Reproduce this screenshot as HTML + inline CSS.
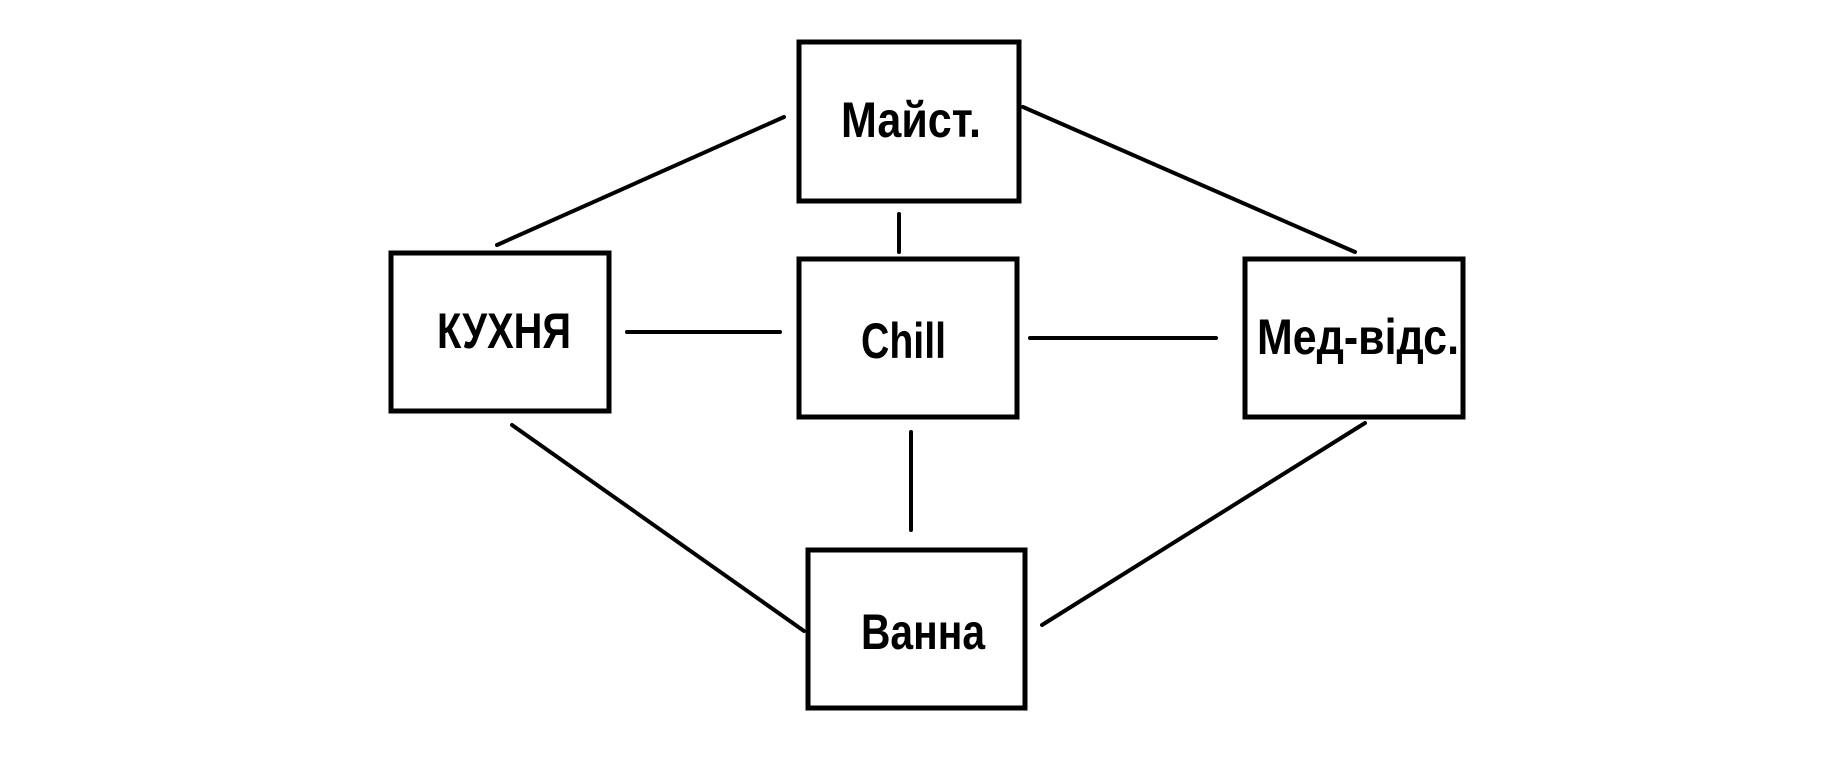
<!DOCTYPE html>
<html><head><meta charset="utf-8"><style>
html,body{margin:0;padding:0;background:#fff;width:1822px;height:771px;overflow:hidden}
svg{display:block}
text{font-family:"Liberation Sans","DejaVu Sans",sans-serif;font-weight:bold;font-size:50px;fill:#000}
</style></head><body>
<svg width="1822" height="771" viewBox="0 0 1822 771" xmlns="http://www.w3.org/2000/svg">
<g fill="none" stroke="#000" stroke-width="5">
<rect x="799" y="42" width="220" height="159"/>
<rect x="391" y="253" width="218" height="158"/>
<rect x="799" y="259" width="218" height="158"/>
<rect x="1245" y="259" width="218" height="158"/>
<rect x="808" y="550" width="217" height="158"/>
</g>
<g stroke="#000" stroke-width="4" stroke-linecap="round">
<line x1="497" y1="245" x2="784" y2="117"/>
<line x1="1023" y1="107" x2="1355" y2="252"/>
<line x1="899" y1="214" x2="899" y2="252"/>
<line x1="627" y1="332" x2="780" y2="332"/>
<line x1="1030" y1="338" x2="1216" y2="338"/>
<line x1="911" y1="432" x2="911" y2="530"/>
<line x1="512" y1="425" x2="804" y2="631"/>
<line x1="1365" y1="423" x2="1042" y2="625"/>
</g>
<text x="841" y="137" textLength="140" lengthAdjust="spacingAndGlyphs">Майст.</text>
<text x="437" y="348" textLength="134" lengthAdjust="spacingAndGlyphs">КУХНЯ</text>
<text x="861" y="358" textLength="85" lengthAdjust="spacingAndGlyphs">Chill</text>
<text x="1257" y="354" textLength="202" lengthAdjust="spacingAndGlyphs">Мед-відс.</text>
<text x="861" y="649" textLength="124" lengthAdjust="spacingAndGlyphs">Ванна</text>
</svg>
</body></html>
